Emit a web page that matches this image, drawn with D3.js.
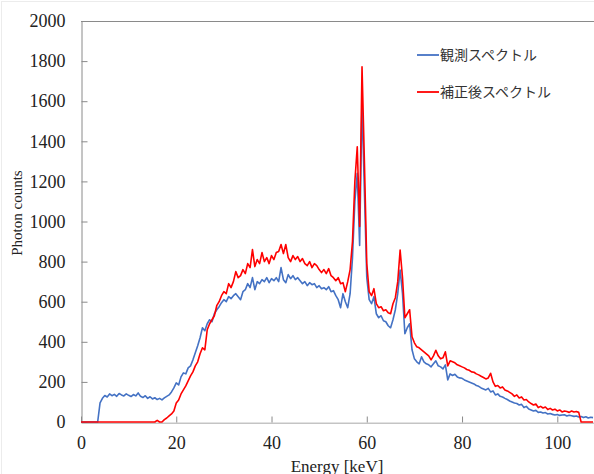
<!DOCTYPE html>
<html>
<head>
<meta charset="utf-8">
<script src="https://d3js.org/d3.v7.min.js"></script>
<style type="text/css">
body {margin:0;background:#fff;}
svg {display:block;}
.tick text {font-family:"Liberation Serif","Times New Roman",serif;font-size:18px;fill:#222;}
.axis path, .axis line {stroke:#8a8a8a;}
.legend text {font-family:"Noto Sans CJK JP",sans-serif;font-size:14px;fill:#333;}
</style>
</head>
<body>
<svg id="chart" width="594" height="474"></svg>

<script type="text/javascript">
// energy bins [keV]
var energy = [
  0,0.5,1,1.5,2,2.5,3,3.5,4,4.5,5,5.5,6,6.5,7,7.5,8,8.5,9,9.5,
  10,10.5,11,11.5,12,12.5,13,13.5,14,14.5,15,15.5,16,16.5,17,17.5,18,18.5,19,19.5,
  20,20.5,21,21.5,22,22.5,23,23.5,24,24.5,25,25.5,26,26.5,27,27.5,28,28.5,29,29.5,
  30,30.5,31,31.5,32,32.5,33,33.5,34,34.5,35,35.5,36,36.5,37,37.5,38,38.5,39,39.5,
  40,40.5,41,41.5,42,42.5,43,43.5,44,44.5,45,45.5,46,46.5,47,47.5,48,48.5,49,49.5,
  50,50.5,51,51.5,52,52.5,53,53.5,54,54.5,55,55.5,56,56.5,57,57.5,58,58.5,59,59.5,
  60,60.5,61,61.5,62,62.5,63,63.5,64,64.5,65,65.5,66,66.5,67,67.5,68,68.5,69,69.5,
  70,70.5,71,71.5,72,72.5,73,73.5,74,74.5,75,75.5,76,76.5,77,77.5,78,78.5,79,79.5,
  80,80.5,81,81.5,82,82.5,83,83.5,84,84.5,85,85.5,86,86.5,87,87.5,88,88.5,89,89.5,
  90,90.5,91,91.5,92,92.5,93,93.5,94,94.5,95,95.5,96,96.5,97,97.5,98,98.5,99,99.5,
  100,100.5,101,101.5,102,102.5,103,103.5,104,104.5,105,105.5,106,106.5,107,107.5
];

// 観測スペクトル (observed)
var observed = [
  0,0,0,0,0,0,0,0,95,118,132,125,140,131,138,128,142,135,130,140,
  133,127,137,130,145,128,122,131,118,126,115,121,112,118,110,120,128,135,150,170,
  195,185,225,245,240,270,280,310,345,380,420,470,455,490,510,500,540,560,575,595,
  610,600,625,615,630,640,625,610,650,660,690,670,720,660,700,690,710,700,720,695,
  715,705,720,700,770,710,695,735,715,730,710,720,705,690,700,680,695,685,690,670,
  680,665,670,660,675,650,655,630,610,570,640,600,570,640,820,1100,1240,880,1597,1150,
  720,610,590,625,540,520,530,505,500,480,470,510,560,640,758,640,440,470,490,360,
  315,300,290,325,300,290,285,275,290,305,280,275,265,285,210,240,232,238,225,220,
  218,210,205,200,195,190,182,178,170,165,160,168,150,155,135,140,128,125,118,112,
  105,100,95,92,85,88,72,78,65,60,55,58,48,50,45,47,40,42,38,35,
  37,33,35,36,30,34,31,28,30,25,27,22,26,20,24,22
];

// 補正後スペクトル (corrected)
var corrected = [
  0,0,0,0,0,0,0,0,0,0,0,0,0,0,0,0,0,0,0,0,
  0,0,0,0,0,0,0,0,0,0,0,0,8,0,0,12,20,30,40,55,
  95,110,140,160,180,205,230,250,280,300,340,370,360,460,490,510,530,580,600,630,
  650,640,690,670,700,750,720,730,760,740,790,770,860,775,810,790,845,800,820,790,
  830,810,845,850,885,840,885,820,800,830,810,825,800,815,790,780,800,770,790,780,
  760,745,760,740,765,730,720,705,720,690,695,650,700,760,900,1200,1373,975,1772,1300,
  790,650,630,665,590,570,575,555,560,545,540,590,620,700,858,720,520,540,560,425,
  395,375,370,360,350,340,330,310,330,358,330,315,320,350,280,305,300,295,285,280,
  275,270,262,258,250,248,240,235,228,222,215,220,243,200,178,182,170,175,160,155,
  148,140,128,135,120,125,110,112,100,92,85,90,72,78,70,75,62,68,60,64,
  55,60,50,55,52,48,55,50,52,48,0,0,0,0,0,0
];

var seriesNames = ["観測スペクトル", "補正後スペクトル"];
var seriesColors = ["#4472c4", "#ff0000"];
var xTicks = [0, 20, 40, 60, 80, 100];
var yTicks = [0, 200, 400, 600, 800, 1000, 1200, 1400, 1600, 1800, 2000];

var svg = d3.select("#chart");
var padL = 81, padT = 21, padB = 422, padR = 594;

var x = d3.scaleLinear().domain([0, 110]).range([padL, padL + 110 * 4.763]);
var y = d3.scaleLinear().domain([0, 2000]).range([padB, padT]);

// faint chart-area frame
svg.append("rect").attr("x", 1.5).attr("y", 1.5).attr("width", 600).attr("height", 480)
  .attr("fill", "none").attr("stroke", "#ececec");

svg.append("clipPath").attr("id", "clip")
  .append("rect").attr("x", padL).attr("y", 0).attr("width", padR - padL).attr("height", padB + 2);

// top border of plot area
svg.append("line").attr("x1", padL).attr("x2", padR).attr("y1", padT + 0.5).attr("y2", padT + 0.5)
  .attr("stroke", "#8a8a8a");

svg.append("g").attr("class", "axis")
  .attr("transform", "translate(" + (padL + 0.5) + ",0)")
  .call(d3.axisLeft(y).tickValues(yTicks).tickFormat(d3.format("d"))
    .tickSize(-6).tickPadding(16).tickSizeOuter(0));

var xAxis = svg.append("g").attr("class", "axis")
  .attr("transform", "translate(0," + (padB + 0.5) + ")")
  .call(d3.axisBottom(x).tickValues(xTicks).tickSize(-6).tickPadding(14).tickSizeOuter(0));
xAxis.select(".domain").attr("clip-path", "url(#clip)");

var line = d3.line()
  .x(function(d, i) { return x(energy[i]); })
  .y(function(d) { return y(d); });

var plot = svg.append("g").attr("clip-path", "url(#clip)");
[observed, corrected].forEach(function(s, k) {
  plot.append("path").datum(s)
    .attr("d", line)
    .attr("fill", "none")
    .attr("stroke", seriesColors[k])
    .attr("stroke-width", 1.6)
    .attr("stroke-linejoin", "round");
});

// axis titles
svg.append("text")
  .attr("transform", "translate(22,213) rotate(-90)")
  .attr("text-anchor", "middle")
  .style("font-family", '"Liberation Serif","Times New Roman",serif')
  .style("font-size", "15px").style("fill", "#222")
  .text("Photon counts");

svg.append("text")
  .attr("x", 337).attr("y", 472)
  .attr("text-anchor", "middle")
  .style("font-family", '"Liberation Serif","Times New Roman",serif')
  .style("font-size", "17px").style("fill", "#222")
  .text("Energy [keV]");

// legend
var legend = svg.append("g").attr("class", "legend");
seriesNames.forEach(function(name, k) {
  var ly = 55 + k * 37;
  legend.append("line").attr("x1", 417).attr("x2", 439).attr("y1", ly).attr("y2", ly)
    .attr("stroke", seriesColors[k]).attr("stroke-width", 1.8);
  legend.append("text").attr("x", 440).attr("y", ly + 5).text(name);
});
</script>
</body>
</html>
